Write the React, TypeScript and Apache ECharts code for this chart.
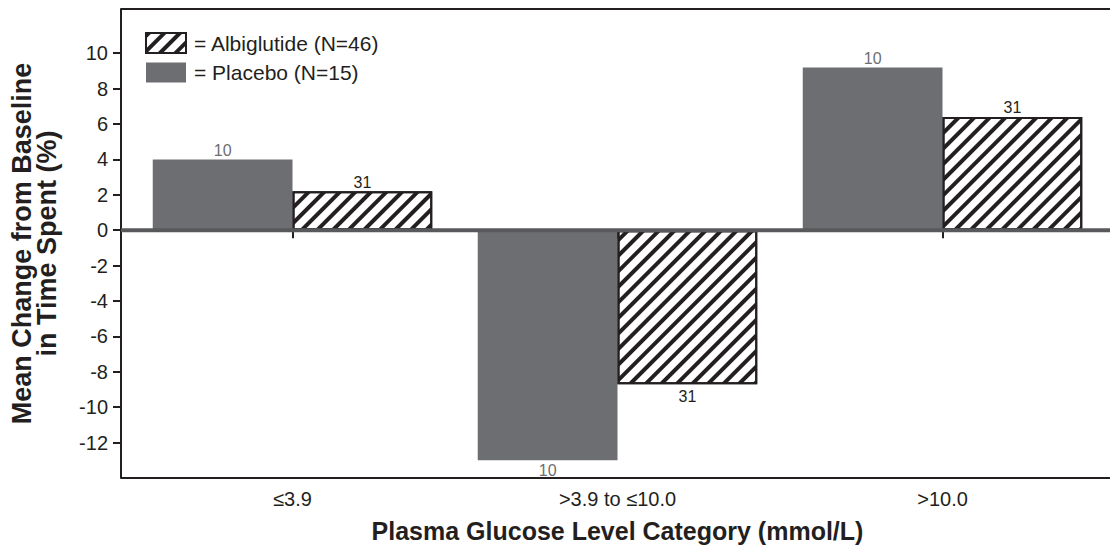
import React, { useEffect, useRef } from "react";
import * as echarts from "echarts";

const categories = ["≤3.9", ">3.9 to ≤10.0", ">10.0"];
const placeboValues = [4.0, -13.0, 9.2];
const albiglutideValues = [2.2, -8.7, 6.4];
const placeboN = [10, 10, 10];
const albiglutideN = [31, 31, 31];
const yTickValues = [-12, -10, -8, -6, -4, -2, 0, 2, 4, 6, 8, 10];
const seriesNames = ["Albiglutide (N=46)", "Placebo (N=15)"];
const yAxisTitle = "Mean Change from Baseline\nin Time Spent (%)";
const xAxisTitle = "Plasma Glucose Level Category (mmol/L)";

const FONT = "'Liberation Sans', Arial, Helvetica, sans-serif";
const INK = "#231f20";
const GREY = "#6d6e71";
const ZERO = "#58595b";

const W = 1110;
const H = 553;
const GRID = { left: 130, right: 5, top: 9, bottom: 75 };
const Y_OFFSET = 9;

function makeData(values: number[], counts: number[], color: string, dist: number[]) {
  return values.map((v, i) => ({
    value: v,
    label: {
      show: true,
      position: v >= 0 ? "top" : "bottom",
      distance: v >= 0 ? dist[0] : dist[1],
      formatter: String(counts[i]),
      color,
      fontSize: 16,
      fontFamily: FONT,
    },
  }));
}

export default function App() {
  const ref = useRef<HTMLDivElement>(null);
  useEffect(() => {
    if (!ref.current) return;
    const chart = echarts.init(ref.current, undefined, { renderer: "svg" });
    const option: any = {
      animation: false,
      backgroundColor: "#fff",
      textStyle: { fontFamily: FONT },
      grid: { ...GRID, containLabel: false },
      legend: {
        data: seriesNames,
        orient: "vertical",
        left: 140,
        top: 27,
        itemWidth: 40,
        itemHeight: 20,
        itemGap: 8,
        icon: "rect",
        formatter: "= {name}",
        textStyle: { fontSize: 21, color: INK, fontFamily: FONT, padding: [0, 0, 0, 3] },
      },
      xAxis: {
        type: "category",
        data: categories,
        boundaryGap: true,
        axisLine: { show: false },
        axisTick: { show: true, alignWithLabel: true, length: 8, lineStyle: { color: INK, width: 2 } },
        axisLabel: { fontSize: 20, color: INK, margin: 11, fontFamily: FONT },
        name: xAxisTitle,
        nameLocation: "middle",
        nameGap: 40,
        nameTextStyle: { fontSize: 25, fontWeight: "bold", color: INK, fontFamily: FONT },
        splitLine: { show: false },
      },
      yAxis: {
        type: "value",
        min: -14,
        max: 12.5,
        interval: 2,
        offset: Y_OFFSET,
        axisLine: { show: true, lineStyle: { color: INK, width: 2 } },
        axisTick: { show: true, length: 8, customValues: yTickValues, lineStyle: { color: INK, width: 2 } },
        axisLabel: { fontSize: 20, color: INK, margin: 13, fontFamily: FONT, customValues: yTickValues },
        splitLine: { show: false },
        name: yAxisTitle,
        nameLocation: "middle",
        nameRotate: 90,
        nameGap: 62,
        nameTextStyle: { fontSize: 27, fontWeight: "bold", color: INK, lineHeight: 25, fontFamily: FONT },
      },
      series: [
        {
          name: seriesNames[1],
          type: "bar",
          barGap: "0%",
          barCategoryGap: "14%",
          itemStyle: { color: GREY },
          data: makeData(placeboValues, placeboN, GREY, [1, 2]),
        },
        {
          name: seriesNames[0],
          type: "bar",
          barGap: "0%",
          barCategoryGap: "14%",
          itemStyle: {
            color: "#ffffff",
            borderColor: INK,
            borderWidth: 2,
            decal: {
              symbol: "rect",
              symbolSize: 1,
              color: INK,
              dashArrayX: [1, 0],
              dashArrayY: [4, 7],
              rotation: -Math.PI / 4,
            },
          },
          data: makeData(albiglutideValues, albiglutideN, INK, [1, 4]),
        },
      ],
    };
    chart.setOption(option);

    const zeroY = chart.convertToPixel({ yAxisIndex: 0 }, 0) as number;
    const left = GRID.left - Y_OFFSET;
    const top = GRID.top;
    const bottom = H - GRID.bottom;
    chart.setOption({
      graphic: [
        {
          type: "line",
          z: 100,
          shape: { x1: left, y1: top, x2: W, y2: top },
          style: { stroke: INK, lineWidth: 2 },
        },
        {
          type: "line",
          z: 100,
          shape: { x1: left, y1: bottom, x2: W, y2: bottom },
          style: { stroke: INK, lineWidth: 2 },
        },
        {
          type: "line",
          z: 100,
          shape: { x1: left, y1: zeroY, x2: W, y2: zeroY },
          style: { stroke: ZERO, lineWidth: 4 },
        },
      ],
    });
    return () => chart.dispose();
  }, []);
  return (
    <div
      ref={ref}
      style={{ position: "fixed", left: 0, top: 0, width: W, height: H }}
    />
  );
}
